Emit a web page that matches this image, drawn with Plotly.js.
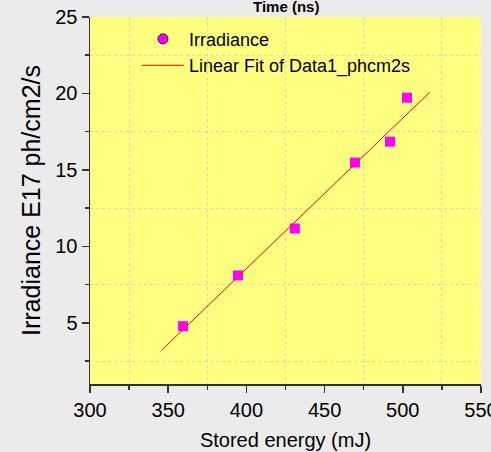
<!DOCTYPE html>
<html>
<head>
<meta charset="utf-8">
<script src="https://cdn.plot.ly/plotly-3.0.1.min.js"></script>
<style>html,body{margin:0;padding:0;background:#ebebeb;}#chart{width:491px;height:452px;}</style>
</head>
<body>
<div id="chart"></div>
<script>
// Measured data (Stored energy mJ vs Irradiance E17 ph/cm2/s)
var energy = [359.5, 394.6, 431.0, 469.4, 491.8, 502.7];
var irradiance = [4.78, 8.1, 11.17, 15.48, 16.85, 19.72];
// Linear fit line end points
var fitX = [345.8, 517.4];
var fitY = [3.21, 20.1];

var FONT = 'Liberation Sans, Arial, sans-serif';
var gridColor = '#d6d6b8';
var axisColor = '#333333';

var traces = [
  {x: energy, y: irradiance, type: 'scatter', mode: 'markers', name: 'Irradiance', showlegend: false,
   marker: {symbol: 'square', size: 10, color: '#ff00ff', line: {width: 0}}},
  {x: [null], y: [null], type: 'scatter', mode: 'markers', name: 'Irradiance',
   marker: {symbol: 'circle-dot', size: 10, color: '#ff00ff', line: {width: 1, color: '#500050'}}},
  {x: fitX, y: fitY, type: 'scatter', mode: 'lines', name: 'Linear Fit of Data1_phcm2s',
   line: {color: '#ff0000', width: 1}}
];

var layout = {
  width: 491, height: 452,
  paper_bgcolor: '#ebebeb', plot_bgcolor: '#ffff80',
  font: {family: FONT, color: '#000'},
  margin: {l: 90, r: 10, t: 17, b: 68, pad: 0},
  showlegend: true,
  legend: {x: 0.12, y: 0.99, xanchor: 'left', yanchor: 'top', bgcolor: 'rgba(0,0,0,0)',
           borderwidth: 0, font: {size: 18, family: FONT}, tracegroupgap: 0, itemwidth: 42},
  annotations: [{text: '<b>Time (ns)</b>', xref: 'paper', yref: 'paper', x: 0.5, y: 1,
                 xanchor: 'center', yanchor: 'bottom', yshift: 0, showarrow: false,
                 font: {size: 15, family: FONT, color: '#000'}}],
  xaxis: {range: [300, 550], dtick: 50, tick0: 300, ticks: 'outside', ticklen: 7, tickwidth: 1.5, tickcolor: axisColor,
          showline: true, linecolor: axisColor, linewidth: 1.5, showgrid: false, zeroline: false,
          tickfont: {size: 20, family: FONT}, ticklabeloverflow: 'allow',
          minor: {dtick: 25, ticks: 'outside', ticklen: 4, tickwidth: 1.5, tickcolor: axisColor,
                  showgrid: true, gridcolor: gridColor, griddash: 'dot', gridwidth: 1},
          title: {text: 'Stored energy (mJ)', font: {size: 20, family: FONT}, standoff: 13}},
  yaxis: {range: [1, 25], dtick: 5, tick0: 0, ticks: 'outside', ticklen: 7, tickwidth: 1.5, tickcolor: axisColor,
          showline: true, linecolor: axisColor, linewidth: 1.5, showgrid: false, zeroline: false,
          tickfont: {size: 20, family: FONT},
          minor: {dtick: 2.5, ticks: 'outside', ticklen: 4, tickwidth: 1.5, tickcolor: axisColor,
                  showgrid: true, gridcolor: gridColor, griddash: 'dot', gridwidth: 1},
          title: {text: 'Irradiance E17 ph/cm2/s', font: {size: 25, family: FONT}, standoff: 7}},
  xaxis2: {overlaying: 'x', anchor: 'y', side: 'top', range: [300, 550], dtick: 50, tick0: 300,
           ticks: 'inside', ticklen: 7, tickwidth: 1.5, tickcolor: axisColor, showticklabels: false,
           showline: true, linecolor: axisColor, linewidth: 1.5, showgrid: false, zeroline: false,
           minor: {dtick: 25, ticks: 'inside', ticklen: 4, tickwidth: 1.5, tickcolor: axisColor}},
  yaxis2: {overlaying: 'y', anchor: 'x', side: 'right', range: [1, 25], dtick: 5, tick0: 0,
           ticks: 'inside', ticklen: 7, tickwidth: 1.5, tickcolor: axisColor, showticklabels: false,
           showline: true, linecolor: axisColor, linewidth: 2, showgrid: false, zeroline: false,
           minor: {dtick: 2.5, ticks: 'inside', ticklen: 4, tickwidth: 1.5, tickcolor: axisColor}}
};

Plotly.newPlot('chart', traces, layout, {displayModeBar: false, staticPlot: true});
</script>
</body>
</html>
